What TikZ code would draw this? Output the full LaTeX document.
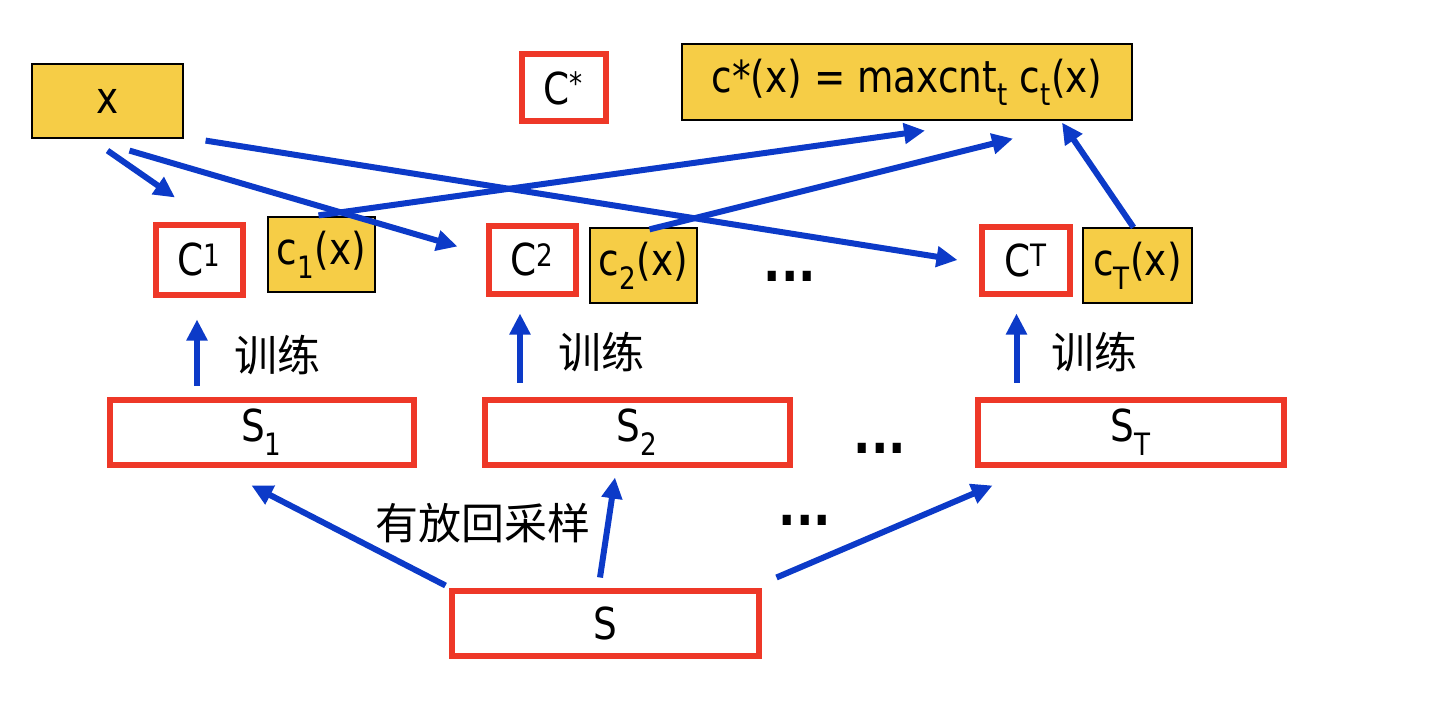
\documentclass[tikz,border=0pt]{standalone}
\usepackage{fontspec}
\setmainfont{DejaVu Sans}[FakeStretch=0.85]
\newfontfamily\cjk{Noto Sans CJK SC}
\usetikzlibrary{arrows.meta,calc}

\definecolor{boxred}{RGB}{238,56,40}
\definecolor{boxyellow}{RGB}{246,205,70}
\definecolor{flowblue}{RGB}{12,58,200}

\tikzset{
  redbox/.style={draw=boxred, line width=6pt, fill=white, inner sep=0pt},
  yellowbox/.style={draw=black, line width=1.2pt, fill=boxyellow, inner sep=0pt},
  flow/.style={draw=flowblue, line width=6pt, -{Triangle[length=21pt,width=20pt]}},
  big/.style={font=\fontsize{44}{52}\selectfont},
  dotsstyle/.style={font=\fontsize{54}{60}\selectfont\bfseries},
  cjklabel/.style={font=\cjk\fontsize{43}{50}\selectfont},
}

\begin{document}
\begin{tikzpicture}[x=1pt,y=1pt,yscale=-1,xscale=1]
\useasboundingbox (0,0) rectangle (1446,706);

%Shape: input and combined classifier
\node (xbox) at (107.5,101) [yellowbox, big, minimum width=151, minimum height=74] {x};
\node (cstar) at (563.5,88) [redbox, big, minimum width=84, minimum height=67] {C\textsuperscript{*}};
\node (fbox) at (907,82) [yellowbox, big, minimum width=450, minimum height=76] {c*(x) = maxcnt\textsubscript{t} c\textsubscript{t}(x)};

%Shape: base classifiers
\node (C1) at (199,259.5) [redbox, big, minimum width=87, minimum height=70] {C\textsuperscript{1}};
\node (c1x) at (321.5,254.5) [yellowbox, big, minimum width=107, minimum height=75] {c\textsubscript{1}(x)};
\node (C2) at (532,259.5) [redbox, big, minimum width=87, minimum height=68] {C\textsuperscript{2}};
\node (c2x) at (643.5,265.5) [yellowbox, big, minimum width=107, minimum height=75] {c\textsubscript{2}(x)};
\node (CT) at (1025.5,260) [redbox, big, minimum width=88, minimum height=67] {C\textsuperscript{T}};
\node (cTx) at (1137.5,265.5) [yellowbox, big, minimum width=109, minimum height=75] {c\textsubscript{T}(x)};
\node (dotsC) at (790,276) [dotsstyle] {...};

%Shape: bootstrap samples
\node (S1) at (261.5,432) [redbox, big, minimum width=304, minimum height=65] {S\textsubscript{1}};
\node (S2) at (637,432) [redbox, big, minimum width=305, minimum height=65] {S\textsubscript{2}};
\node (ST) at (1130.5,432) [redbox, big, minimum width=306, minimum height=65] {S\textsubscript{T}};
\node (dotsS) at (880,448) [dotsstyle] {...};
\node (S) at (605,623) [redbox, big, minimum width=307, minimum height=65] {S};

% Text Node
\node (train1) at (277,355) [cjklabel] {训练};
\node (train2) at (601,352) [cjklabel] {训练};
\node (trainT) at (1094,352) [cjklabel] {训练};
\node (sample) at (483,523) [cjklabel] {有放回采样};
\node (dotsB) at (805,520) [dotsstyle] {...};

%Arrows: training
\draw[flow] ($(S1.north -| C1.south)+(-2,-11)$) -- ($(C1.south)+(-2,22)$);
\draw[flow] ($(S2.north -| C2.south)+(-12,-14)$) -- ($(C2.south)+(-12,17)$);
\draw[flow] ($(ST.north -| CT.south)+(-9,-14)$) -- ($(CT.south)+(-9,17)$);

%Arrows: sampling with replacement
\draw[flow] ($(S.north west)+(-3,-2)$) -- ($(S1.south)+(-10,18)$);
\draw[flow] ($(S.north)+(-5,-10)$) -- ($(S2.south)+(-22,10)$);
\draw[flow] ($(S.north east)+(15,-10)$) -- ($(ST.south west)+(18,18)$);

%Arrows: input to classifiers
\draw[flow] ($(xbox.south)+(0,12)$) -- ($(C1.north)+(-24,-24)$);
\draw[flow] ($(xbox.south)+(22,12)$) -- ($(C2.west)+(-28,-13)$);
\draw[flow] ($(xbox.south east)+(22,2)$) -- ($(CT.west)+(-21,0)$);

%Arrows: votes to combined classifier
\draw[flow] ($(c1x.north)+(-3,-1)$) -- ($(fbox.south)+(18,10)$);
\draw[flow] ($(c2x.north)+(6,2)$) -- ($(fbox.south)+(106,18)$);
\draw[flow] ($(cTx.north)+(-4,0)$) -- ($(fbox.south)+(155,2)$);

\end{tikzpicture}
\end{document}
